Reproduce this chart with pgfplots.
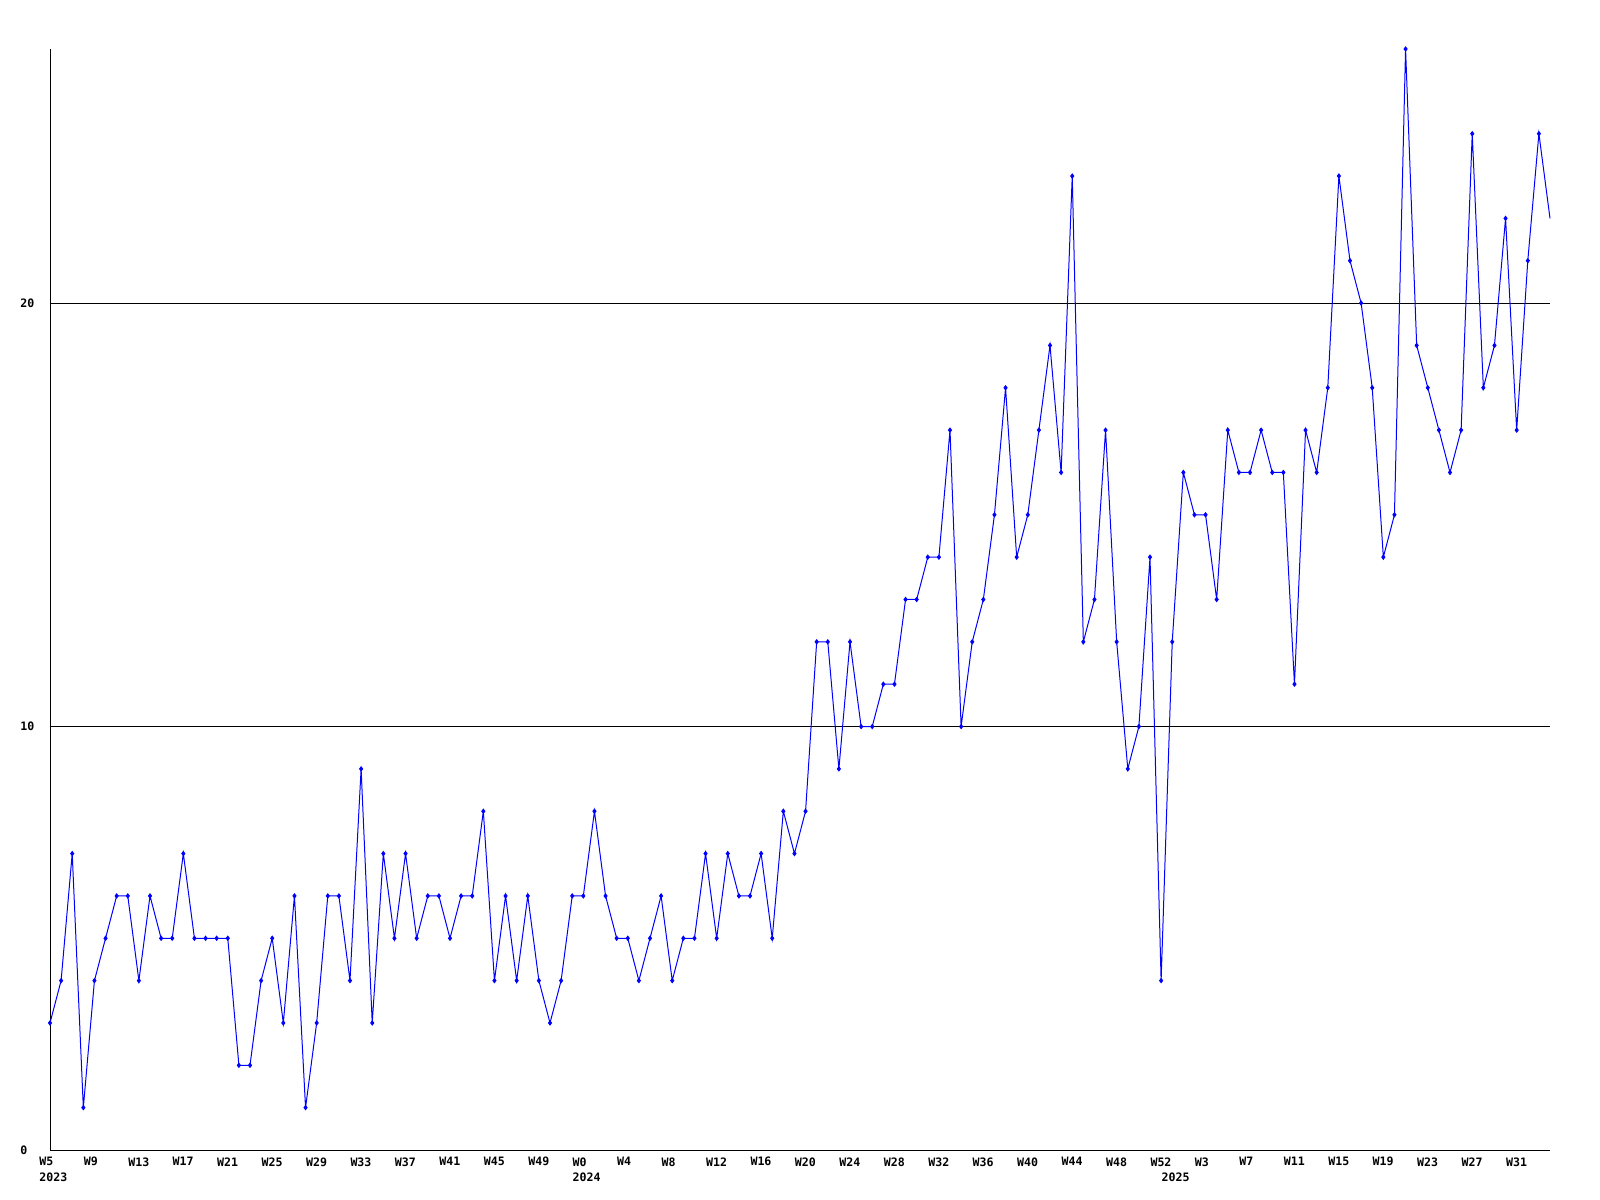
\documentclass[border=0pt]{standalone}
\usepackage{pgfplots}
\pgfplotsset{compat=1.18}
\usepackage{fontspec}
\setmainfont{DejaVu Sans Mono}
\pgfplotstableread{
i v
0 3
1 4
2 7
3 1
4 4
5 5
6 6
7 6
8 4
9 6
10 5
11 5
12 7
13 5
14 5
15 5
16 5
17 2
18 2
19 4
20 5
21 3
22 6
23 1
24 3
25 6
26 6
27 4
28 9
29 3
30 7
31 5
32 7
33 5
34 6
35 6
36 5
37 6
38 6
39 8
40 4
41 6
42 4
43 6
44 4
45 3
46 4
47 6
48 6
49 8
50 6
51 5
52 5
53 4
54 5
55 6
56 4
57 5
58 5
59 7
60 5
61 7
62 6
63 6
64 7
65 5
66 8
67 7
68 8
69 12
70 12
71 9
72 12
73 10
74 10
75 11
76 11
77 13
78 13
79 14
80 14
81 17
82 10
83 12
84 13
85 15
86 18
87 14
88 15
89 17
90 19
91 16
92 23
93 12
94 13
95 17
96 12
97 9
98 10
99 14
100 4
101 12
102 16
103 15
104 15
105 13
106 17
107 16
108 16
109 17
110 16
111 16
112 11
113 17
114 16
115 18
116 23
117 21
118 20
119 18
120 14
121 15
122 26
123 19
124 18
125 17
126 16
127 17
128 24
129 18
130 19
131 22
132 17
133 21
134 24
135 22
}\datatable
\begin{document}
\begin{tikzpicture}
\useasboundingbox (-25bp,-25bp) rectangle (775bp,575bp);
\begin{axis}[
  at={(0bp,0bp)}, anchor=origin,
  scale only axis,
  width=750bp, height=550.5bp,
  xmin=0, xmax=135, ymin=0, ymax=26,
  axis x line*=bottom, axis y line*=left,
  axis line style={black, line width=0.5bp},
  major tick length=0pt,
  tick style={draw=none},
  ytick={0,10,20},
  ymajorgrids,
  grid style={black, line width=0.5bp},
  xtick={0,4,...,132},
  xticklabels={W5,W9,W13,W17,W21,W25,W29,W33,W37,W41,W45,W49,W0,W4,W8,W12,W16,W20,W24,W28,W32,W36,W40,W44,W48,W52,W3,W7,W11,W15,W19,W23,W27,W31},
  extra x ticks={0,48,101},
  extra x tick labels={2023,2024,2025},
  extra x tick style={grid=none, xticklabel style={yshift=-7.6bp}},
  /pgf/number format/assume math mode=true,
  ticklabel style={font=\fontsize{5.8bp}{6bp}\selectfont\bfseries, inner sep=0pt},
  xticklabel style={anchor=north west, xshift=-5.5bp, yshift=-3.5bp},
  yticklabel style={anchor=west, xshift=-15bp},
  clip=false,
]
\addplot[color={rgb,255:red,0;green,0;blue,255}, line width=0.5bp,
  mark=diamond*, mark size=1bp, mark indices={1,...,135}]
  table[x=i, y=v] {\datatable};
\end{axis}
\end{tikzpicture}
\end{document}
